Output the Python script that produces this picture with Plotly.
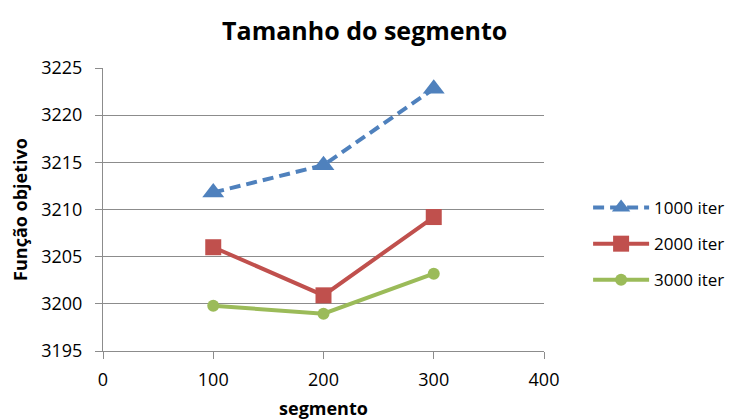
import plotly.graph_objects as go

segmento = [100, 200, 300]
iter_1000 = [3211.8, 3214.7, 3222.8]
iter_2000 = [3206.0, 3200.9, 3209.2]
iter_3000 = [3199.8, 3198.95, 3203.2]
series_names = ["1000 iter", "2000 iter", "3000 iter"]

fig = go.Figure()
fig.add_trace(go.Scatter(x=segmento, y=iter_1000, name=series_names[0], mode="lines+markers",
                         legendgroup="a",
                         line=dict(color="#4F81BD", width=4, dash="11px,6px"),
                         marker=dict(symbol="triangle-up", size=19, color="#4F81BD")))
fig.add_trace(go.Scatter(x=segmento, y=iter_2000, name=series_names[1], mode="lines+markers",
                         legendgroup="b",
                         line=dict(color="#C0504D", width=4),
                         marker=dict(symbol="square", size=16, color="#C0504D")))
fig.add_trace(go.Scatter(x=segmento, y=iter_3000, name=series_names[2], mode="lines+markers",
                         legendgroup="c",
                         line=dict(color="#9BBB59", width=4),
                         marker=dict(symbol="circle", size=12, color="#9BBB59")))

fig.update_layout(
    width=734, height=419,
    margin=dict(l=95, r=198, t=60, b=76, autoexpand=False),
    paper_bgcolor="white", plot_bgcolor="white",
    font=dict(family="Open Sans, Liberation Sans, sans-serif", color="#000000"),
    title=dict(text="<b>Tamanho do segmento</b>", x=0.486, xanchor="center", y=0.945, yanchor="middle",
               font=dict(size=25, color="#000000")),
    legend=dict(x=1.1, y=0.378, xanchor="left", yanchor="middle", font=dict(size=17),
                traceorder="grouped", tracegroupgap=11, itemwidth=56, bgcolor="rgba(0,0,0,0)"),
    showlegend=True,
)
fig.update_xaxes(range=[0, 400], dtick=100, tick0=0, showgrid=False, zeroline=False,
                 showline=True, linecolor="#8c8c8c", linewidth=1,
                 ticks="outside", ticklen=7, tickcolor="#8c8c8c",
                 tickfont=dict(size=18), ticklabelstandoff=5,
                 title=dict(text="<b>segmento</b>", font=dict(size=18), standoff=12))
fig.update_yaxes(range=[3195, 3225], dtick=5, tick0=3195, showgrid=True, gridcolor="#8c8c8c", gridwidth=1,
                 zeroline=False, showline=True, linecolor="#8c8c8c", linewidth=1,
                 ticks="outside", ticklen=7, tickcolor="#8c8c8c",
                 tickfont=dict(size=18), ticklabelstandoff=9,
                 title=dict(text="<b>Função objetivo</b>", font=dict(size=18), standoff=8))

fig.write_html("out.html")
